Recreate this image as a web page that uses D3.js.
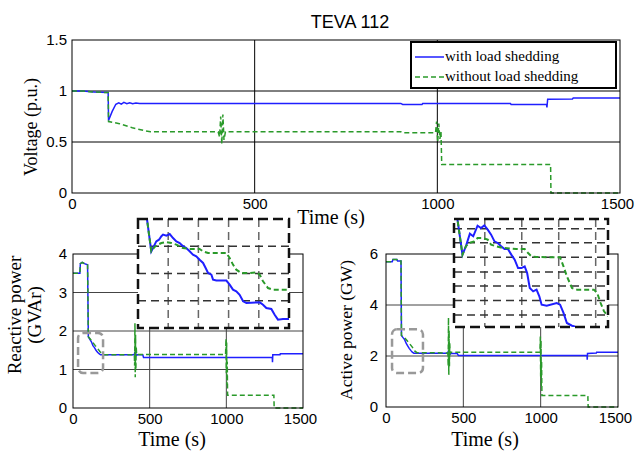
<!DOCTYPE html>
<html>
<head>
<meta charset="utf-8">
<script src="https://cdn.jsdelivr.net/npm/d3@7"></script>
<style>
  body { margin: 0; background: #fff; }
  svg { display: block; }
</style>
</head>
<body>
<svg width="635" height="454"></svg>
<script>
// ---- data ----
const timeTicks = [0, 500, 1000, 1500];
const timeGrid = [500, 1000];

const voltTicks = [0, 0.5, 1, 1.5];
const voltGrid = [0.5, 1];
const voltWith = [[0,1.0],[30,1.0],[60,0.99],[99,0.985],[100,0.71],[110,0.80],[120,0.87],[128,0.885],[135,0.872],[142,0.888],[150,0.875],[158,0.885],[166,0.876],[175,0.882],[185,0.878],[900,0.878],[905,0.868],[958,0.868],[960,0.878],[1200,0.878],[1202,0.868],[1299,0.868],[1300,0.84],[1302,0.92],[1370,0.922],[1372,0.932],[1500,0.932]];
const voltWithout = [[0,1.0],[30,1.0],[60,0.99],[99,0.985],[100,0.70],[130,0.68],[165,0.64],[200,0.61],[215,0.60],[400,0.60],[404,0.55],[407,0.75],[410,0.48],[413,0.77],[416,0.52],[420,0.60],[900,0.60],[905,0.59],[995,0.59],[998,0.70],[1001,0.50],[1004,0.68],[1007,0.53],[1010,0.60],[1012,0.28],[1310,0.28],[1311,0],[1500,0]];

const qTicks = [0, 1, 2, 3, 4];
const qGrid = [1, 2, 3];
const qWith = [[0,3.5],[45,3.5],[48,3.75],[60,3.78],[75,3.75],[95,3.72],[100,1.85],[110,1.78],[120,1.72],[130,1.62],[140,1.57],[150,1.5],[160,1.45],[170,1.41],[180,1.38],[400,1.38],[403,1.45],[406,1.32],[409,1.42],[412,1.36],[420,1.38],[455,1.38],[460,1.31],[1300,1.31],[1301,1.19],[1303,1.38],[1350,1.38],[1352,1.41],[1500,1.41]];
const qWithout = [[0,3.5],[45,3.5],[48,3.75],[60,3.78],[75,3.75],[95,3.72],[100,1.85],[115,1.78],[130,1.7],[145,1.62],[160,1.55],[175,1.47],[190,1.41],[205,1.38],[400,1.38],[402,1.1],[404,2.2],[406,0.8],[408,1.9],[410,1.0],[412,1.6],[415,1.38],[420,1.39],[995,1.39],[998,1.8],[1000,0.9],[1002,1.7],[1004,0.6],[1006,1.2],[1008,0.33],[1310,0.33],[1312,0],[1500,0]];
const qZoomBox = [[33, 196], [0.91, 1.95]];
const qInsetX = [120, 140, 160, 180];
const qInsetY = [1.45, 1.6, 1.75];
const qInsetWith = [[105.5,2.1],[106,1.896],[108.8,1.722],[112.1,1.777],[113.9,1.786],[115.5,1.805],[116.6,1.814],[118.8,1.808],[121,1.817],[123.2,1.795],[125.4,1.777],[127.6,1.768],[129.8,1.75],[132,1.74],[134.2,1.722],[136.4,1.704],[138.6,1.695],[140.8,1.676],[143.1,1.658],[144.8,1.63],[146.4,1.603],[148.6,1.594],[149.7,1.566],[151.9,1.561],[158.5,1.561],[160.7,1.539],[162.9,1.511],[165.1,1.502],[167.3,1.483],[169.6,1.447],[171.8,1.438],[180.6,1.441],[182.8,1.428],[185,1.41],[188.3,1.405],[190.5,1.373],[192.7,1.346],[196,1.349],[200,1.349]];
const qInsetWithout = [[105.5,2.1],[106,1.896],[108.8,1.722],[111,1.746],[113.2,1.759],[115.5,1.768],[118.8,1.773],[122.1,1.768],[125.4,1.759],[129.8,1.74],[134.2,1.735],[140.8,1.735],[143.1,1.722],[146.4,1.713],[158.5,1.713],[160.7,1.685],[162.9,1.649],[165.1,1.621],[168.4,1.603],[174,1.603],[178.4,1.606],[180.6,1.594],[182.8,1.557],[186.1,1.52],[189.4,1.511],[200,1.511]];

const pTicks = [0, 2, 4, 6];
const pGrid = [2, 4];
const pWith = [[0,5.7],[40,5.7],[45,5.78],[70,5.78],[75,5.73],[97,5.73],[100,2.8],[110,2.72],[120,2.65],[130,2.5],[140,2.4],[150,2.3],[160,2.22],[170,2.15],[180,2.11],[400,2.11],[403,2.2],[406,2.0],[409,2.15],[412,2.05],[420,2.1],[460,2.1],[468,2.02],[1300,2.02],[1301,1.85],[1303,2.1],[1360,2.12],[1362,2.15],[1500,2.15]];
const pWithout = [[0,5.7],[40,5.7],[45,5.78],[70,5.78],[75,5.73],[97,5.73],[100,2.8],[115,2.75],[130,2.65],[150,2.5],[170,2.35],[185,2.2],[200,2.13],[400,2.12],[402,1.6],[404,3.5],[406,1.26],[408,3.0],[410,1.6],[412,2.5],[415,2.1],[420,2.15],[995,2.15],[998,2.76],[1000,1.2],[1002,2.6],[1004,0.8],[1006,1.8],[1008,0.45],[1305,0.45],[1307,0],[1500,0]];
const pZoomBox = [[39, 239], [1.33, 3.05]];
const pInsetX = [120, 144, 168, 192];
const pInsetY = [2.11, 2.245, 2.38, 2.51, 2.645, 2.78, 2.91];
const pInsetWith = [[101.5,3.2],[102.2,3.0],[105.5,2.67],[107.7,2.747],[110.3,2.864],[112.5,2.84],[115.3,2.938],[117.5,2.917],[119.7,2.941],[121.9,2.901],[124.1,2.855],[126.3,2.793],[128.4,2.778],[130.6,2.747],[132.8,2.722],[135,2.722],[137.2,2.67],[139.4,2.624],[141.6,2.546],[143.8,2.546],[145.9,2.562],[147.5,2.5],[149.2,2.361],[151.4,2.33],[153.6,2.346],[155.4,2.284],[156.9,2.207],[160.2,2.198],[166.7,2.222],[168.9,2.207],[171.1,2.13],[173.3,2.037],[176.6,2.012],[178.1,2.006],[180,1.95]];
const pInsetWithout = [[101.5,3.2],[102.2,3.0],[105.5,2.67],[107.7,2.747],[109.8,2.778],[113.1,2.793],[115.3,2.824],[118.6,2.824],[121.9,2.809],[124.1,2.762],[127.4,2.747],[131.7,2.732],[140.5,2.722],[145.9,2.722],[148.1,2.685],[150.3,2.654],[153.6,2.648],[168.9,2.645],[171.1,2.562],[173.3,2.469],[176.6,2.361],[179.9,2.346],[190.8,2.346],[193,2.315],[195.2,2.222],[197.4,2.145],[200,2.099]];

// ---- drawing ----
const blue = "#1f1fff";
const green = "#2a9a2a";
const sans = "'Liberation Sans', Arial, sans-serif";
const serif = "'Liberation Serif', 'Times New Roman', serif";

const svg = d3.select("svg");
const defs = svg.append("defs");
let clipCount = 0;

function clipRect(x, y, w, h) {
  const id = "clip" + clipCount++;
  defs.append("clipPath").attr("id", id)
    .append("rect").attr("x", x).attr("y", y).attr("width", w).attr("height", h);
  return `url(#${id})`;
}

function curves(g, x, y, withData, withoutData, w, dash) {
  const line = d3.line().x(d => x(d[0])).y(d => y(d[1]));
  g.append("path").datum(withData).attr("d", line)
    .attr("fill", "none").attr("stroke", blue).attr("stroke-width", w);
  g.append("path").datum(withoutData).attr("d", line)
    .attr("fill", "none").attr("stroke", green).attr("stroke-width", w)
    .attr("stroke-dasharray", dash);
}

function panel(o) {
  const x = d3.scaleLinear().domain([0, 1500]).range([o.left, o.right]);
  const y = d3.scaleLinear().domain(o.yDomain).range([o.bottom, o.top]);
  const g = svg.append("g");

  g.append("g").selectAll("line").data(timeGrid).join("line")
    .attr("x1", x).attr("x2", x).attr("y1", o.top).attr("y2", o.bottom)
    .attr("stroke", o.gridColor);
  g.append("g").selectAll("line").data(o.yGrid).join("line")
    .attr("y1", y).attr("y2", y).attr("x1", o.left).attr("x2", o.right)
    .attr("stroke", o.gridColor);

  const data = g.append("g")
    .attr("clip-path", clipRect(o.left, o.top - 1, o.right - o.left + 1, o.bottom - o.top + 2));
  curves(data, x, y, o.with, o.without, 1.5, "5,3");

  g.append("rect")
    .attr("x", o.left).attr("y", o.top)
    .attr("width", o.right - o.left).attr("height", o.bottom - o.top)
    .attr("fill", "none").attr("stroke", "#000");

  const xa = g.append("g").attr("transform", `translate(0,${o.bottom})`)
    .call(d3.axisBottom(x).tickValues(timeTicks).tickSize(0).tickPadding(o.xPad).tickFormat(d3.format("d")));
  const ya = g.append("g").attr("transform", `translate(${o.left},0)`)
    .call(d3.axisLeft(y).tickValues(o.yTicks).tickSize(0).tickPadding(o.yPad).tickFormat(d => String(d)));
  [xa, ya].forEach(a => {
    a.select(".domain").remove();
    a.selectAll("text").attr("font-family", sans).attr("font-size", 15).attr("fill", "#000");
  });
  // last time label sits a little inside the right edge
  xa.selectAll("text").filter(d => d === 1500).attr("dx", -3);
  return { x, y, g };
}

function zoomBox(p, box) {
  const x0 = p.x(box[0][0]), x1 = p.x(box[0][1]);
  const y0 = p.y(box[1][1]), y1 = p.y(box[1][0]);
  p.g.append("rect")
    .attr("x", x0).attr("y", y0).attr("width", x1 - x0).attr("height", y1 - y0)
    .attr("rx", 5).attr("fill", "none")
    .attr("stroke", "#999").attr("stroke-width", 2.5).attr("stroke-dasharray", "8,4");
}

function inset(o) {
  const x = d3.scaleLinear().domain([100, 200]).range([o.left, o.right]);
  const y = d3.scaleLinear().domain(o.yDomain).range([o.bottom, o.top]);
  const g = svg.append("g");
  g.append("rect")
    .attr("x", o.left).attr("y", o.top)
    .attr("width", o.right - o.left).attr("height", o.bottom - o.top)
    .attr("fill", "#fff");
  g.append("g").selectAll("line").data(o.xGrid).join("line")
    .attr("x1", x).attr("x2", x).attr("y1", o.top).attr("y2", o.bottom)
    .attr("stroke", "#666").attr("stroke-width", 1.5).attr("stroke-dasharray", "8,5");
  g.append("g").selectAll("line").data(o.yGrid).join("line")
    .attr("y1", y).attr("y2", y).attr("x1", o.left).attr("x2", o.right)
    .attr("stroke", "#333").attr("stroke-width", 1.5).attr("stroke-dasharray", "8,5");
  const data = g.append("g")
    .attr("clip-path", clipRect(o.left, o.top, o.right - o.left, o.bottom - o.top));
  curves(data, x, y, o.with, o.without, 2, "5,3");
  g.append("rect")
    .attr("x", o.left).attr("y", o.top)
    .attr("width", o.right - o.left).attr("height", o.bottom - o.top)
    .attr("fill", "none").attr("stroke", "#111").attr("stroke-width", 2.5)
    .attr("stroke-dasharray", "10,5");
}

function label(text, x, y, size, rotate, family) {
  svg.append("text")
    .attr("transform", `translate(${x},${y})` + (rotate ? " rotate(-90)" : ""))
    .attr("text-anchor", "middle")
    .attr("font-family", family || serif)
    .attr("font-size", size)
    .text(text);
}

// top: voltage
const vp = panel({
  left: 72, right: 620, top: 40, bottom: 193,
  yDomain: [0, 1.5], yTicks: voltTicks, yGrid: voltGrid,
  with: voltWith, without: voltWithout,
  gridColor: "#000", xPad: 5, yPad: 5
});

// legend
const lg = svg.append("g");
lg.append("rect").attr("x", 411).attr("y", 42).attr("width", 205).attr("height", 46)
  .attr("fill", "#fff").attr("stroke", "#000").attr("stroke-width", 2);
lg.append("line").attr("x1", 415).attr("x2", 444).attr("y1", 57).attr("y2", 57)
  .attr("stroke", blue).attr("stroke-width", 1.5);
lg.append("line").attr("x1", 415).attr("x2", 444).attr("y1", 77).attr("y2", 77)
  .attr("stroke", green).attr("stroke-width", 1.5).attr("stroke-dasharray", "5,3");
lg.append("text").attr("x", 445).attr("y", 61).attr("font-family", serif)
  .attr("font-size", 15).text("with load shedding");
lg.append("text").attr("x", 445).attr("y", 81).attr("font-family", serif)
  .attr("font-size", 15).text("without load shedding");

label("TEVA 112", 350, 28, 18, false, sans);
label("Voltage (p.u.)", 37, 127, 18, true);

// bottom left: reactive power
const qp = panel({
  left: 73, right: 303, top: 254, bottom: 408,
  yDomain: [0, 4], yTicks: qTicks, yGrid: qGrid,
  with: qWith, without: qWithout,
  gridColor: "#444", xPad: 5, yPad: 6
});
zoomBox(qp, qZoomBox);

// bottom right: active power
const pp = panel({
  left: 386, right: 618, top: 254, bottom: 407,
  yDomain: [0, 6], yTicks: pTicks, yGrid: pGrid,
  with: pWith, without: pWithout,
  gridColor: "#444", xPad: 5, yPad: 8
});
zoomBox(pp, pZoomBox);

label("Time (s)", 331, 224, 20, false);

inset({
  left: 138, right: 289, top: 219, bottom: 328,
  yDomain: [1.3, 1.9], xGrid: qInsetX, yGrid: qInsetY,
  with: qInsetWith, without: qInsetWithout
});
inset({
  left: 454, right: 608, top: 219, bottom: 327,
  yDomain: [2.0, 3.0], xGrid: pInsetX, yGrid: pInsetY,
  with: pInsetWith, without: pInsetWithout
});

label("Reactive power", 21, 315, 19, true);
label("(GVAr)", 41, 315, 19, true);
label("Time (s)", 172, 446, 20, false);
label("Active power (GW)", 352, 330, 17.5, true);
label("Time (s)", 485, 446, 20, false);
</script>
</body>
</html>
